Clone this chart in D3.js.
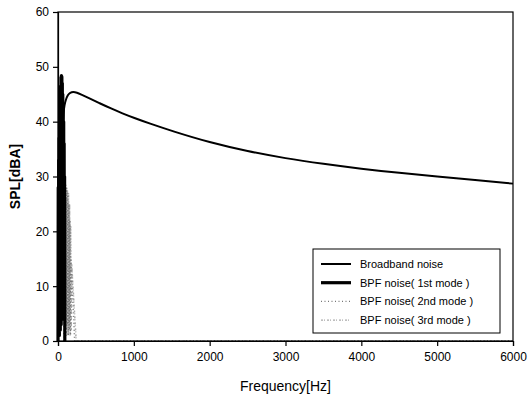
<!DOCTYPE html>
<html>
<head>
<meta charset="utf-8">
<script src="https://cdn.jsdelivr.net/npm/d3@7.9.0/dist/d3.min.js"></script>
<style>
  body { margin: 0; background: #fff; }
  svg { display: block; font-family: "Liberation Sans", Arial, sans-serif; }
</style>
</head>
<body>
<svg width="528" height="401"></svg>
<script>
// values
const xTicks = [0, 1000, 2000, 3000, 4000, 5000, 6000];
const yTicks = [0, 10, 20, 30, 40, 50, 60];

const broadHz = [50, 60, 70, 85, 100, 130, 160, 200, 250, 300, 400, 550, 700, 850, 1000, 1200, 1500, 2000, 2500, 3000, 3500, 4000, 4500, 5000, 5500, 6000];
const broadDb = [35.5, 39.0, 41.4, 43.0, 43.9, 44.9, 45.3, 45.45, 45.3, 45.0, 44.35, 43.35, 42.4, 41.5, 40.7, 39.7, 38.3, 36.2, 34.6, 33.3, 32.3, 31.4, 30.65, 30.0, 29.35, 28.7];

const bpf1Hz = [0, 3, 6, 9, 12, 15, 18, 21, 24, 27, 30, 33, 36, 39, 42, 45, 48, 51, 54, 57, 60, 63, 66, 69, 72, 75, 78, 81, 84, 87, 90];
const bpf1Db = [0, 28, 1, 33, 2, 37, 1, 41, 3, 44, 2, 46.5, 4, 48.1, 3, 48.4, 5, 48.2, 4, 47.0, 6, 45.0, 5, 42.5, 8, 40.0, 6, 36.0, 10, 30.0, 0];

const bpf2Hz = [80, 87, 94, 101, 108, 115, 122, 129, 136, 143, 150, 157, 164, 171, 220, 6000];
const bpf2Db = [0, 27, 2, 28.5, 1, 28, 3, 27, 1, 25, 2, 22, 1, 15, 0, 0];

const bpf3Hz = [90, 97, 104, 111, 118, 125, 132, 139, 146, 153, 160, 167, 174, 181, 240, 6000];
const bpf3Db = [0, 20, 1, 26, 2, 27.5, 1, 27, 3, 25, 1, 21, 2, 14, 0, 0];

const legendLabels = ["Broadband noise", "BPF noise( 1st mode )", "BPF noise( 2nd mode )", "BPF noise( 3rd mode )"];

const svg = d3.select("svg");
const margin = { left: 58, right: 15, top: 12, bottom: 60 };
const W = 528, H = 401;

const x = d3.scaleLinear().domain([0, 6000]).range([margin.left, W - margin.right]);
const y = d3.scaleLinear().domain([0, 60]).range([H - margin.bottom, margin.top]);

svg.append("rect").attr("width", W).attr("height", H).attr("fill", "#fff");

const styles = [
  { stroke: "#000", width: 2, dash: null },
  { stroke: "#000", width: 3.2, dash: null },
  { stroke: "#777", width: 1.2, dash: "1,2.5" },
  { stroke: "#aaa", width: 1.2, dash: "2,1,1,2" }
];

const line = d3.line().x(d => x(d[0])).y(d => y(d[1]));

function series(hz, db) { return hz.map((h, i) => [h, db[i]]); }

svg.append("path")
  .datum(series(bpf3Hz, bpf3Db))
  .attr("d", line)
  .attr("fill", "none")
  .attr("stroke", styles[3].stroke)
  .attr("stroke-width", 1.5)
  .attr("stroke-dasharray", styles[3].dash);

svg.append("path")
  .datum(series(bpf2Hz, bpf2Db))
  .attr("d", line)
  .attr("fill", "none")
  .attr("stroke", styles[2].stroke)
  .attr("stroke-width", 1.5)
  .attr("stroke-dasharray", styles[2].dash);

svg.append("path")
  .datum(series(bpf1Hz, bpf1Db))
  .attr("d", line)
  .attr("fill", "none")
  .attr("stroke", styles[1].stroke)
  .attr("stroke-width", styles[1].width)
  .attr("stroke-linejoin", "round");

svg.append("path")
  .datum(series(broadHz, broadDb))
  .attr("d", d3.line().x(d => x(d[0])).y(d => y(d[1])).curve(d3.curveBasis))
  .attr("fill", "none")
  .attr("stroke", styles[0].stroke)
  .attr("stroke-width", styles[0].width);

// frame
svg.append("rect")
  .attr("x", x(0)).attr("y", y(60))
  .attr("width", x(6000) - x(0)).attr("height", y(0) - y(60))
  .attr("fill", "none").attr("stroke", "#000").attr("stroke-width", 1.2);

const xAxis = svg.append("g")
  .attr("transform", `translate(0,${y(0)})`)
  .call(d3.axisBottom(x).tickValues(xTicks).tickSize(5).tickPadding(6).tickFormat(d3.format("d")));
const yAxis = svg.append("g")
  .attr("transform", `translate(${x(0)},0)`)
  .call(d3.axisLeft(y).tickValues(yTicks).tickSize(5).tickPadding(4));

[xAxis, yAxis].forEach(g => {
  g.select(".domain").attr("stroke", "#000").attr("stroke-width", 1.2);
  g.selectAll(".tick line").attr("stroke", "#000").attr("stroke-width", 1.2);
  g.selectAll(".tick text").attr("fill", "#000").attr("font-size", 12)
    .attr("font-family", "'Liberation Sans', Arial, sans-serif");
});

svg.append("text")
  .attr("x", (x(0) + x(6000)) / 2).attr("y", 391)
  .attr("text-anchor", "middle").attr("font-size", 14)
  .text("Frequency[Hz]");

svg.append("text")
  .attr("transform", `translate(20,${(y(0) + y(60)) / 2}) rotate(-90)`)
  .attr("text-anchor", "middle").attr("font-size", 14).attr("font-weight", "bold")
  .text("SPL[dBA]");

// legend
const lg = svg.append("g").attr("transform", "translate(313,249)");
lg.append("rect").attr("width", 187).attr("height", 84)
  .attr("fill", "#fff").attr("stroke", "#000").attr("stroke-width", 1);

legendLabels.forEach((lab, i) => {
  const yy = 15 + i * 18.7;
  lg.append("line")
    .attr("x1", 8).attr("x2", 38).attr("y1", yy).attr("y2", yy)
    .attr("stroke", styles[i].stroke).attr("stroke-width", styles[i].width)
    .attr("stroke-dasharray", styles[i].dash);
  lg.append("text")
    .attr("x", 47).attr("y", yy + 4)
    .attr("font-size", 11).attr("fill", "#000")
    .text(lab);
});
</script>
</body>
</html>
